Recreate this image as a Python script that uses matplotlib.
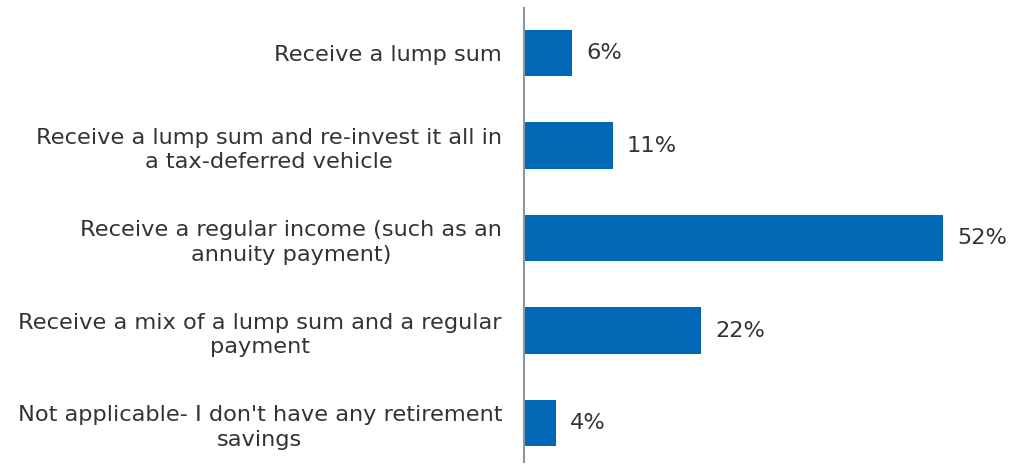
import matplotlib.pyplot as plt
from matplotlib.transforms import offset_copy

labels = [
    "Receive a lump sum",
    "Receive a lump sum and re-invest it all in\na tax-deferred vehicle",
    "Receive a regular income (such as an\nannuity payment)",
    "Receive a mix of a lump sum and a regular\npayment",
    "Not applicable- I don't have any retirement\nsavings",
]
values = [6, 11, 52, 22, 4]

bar_color = "#0068b4"
text_color = "#333333"
fs = 16.2

fig = plt.figure(figsize=(10.14, 4.65), dpi=100)
ax = fig.add_axes([524 / 1014, 3 / 465, 1 - 524 / 1014, 454 / 465])

pos = range(len(values))
ax.barh(pos, values, height=0.5, color=bar_color)
ax.set_ylim(4.42, -0.486)
ax.set_xlim(0, 490 / 8.06)

for y, v in zip(pos, values):
    ax.text(v + 1.75, y, f"{v}%", va="center", ha="left",
            fontsize=fs, color=text_color)

ax.set_yticks(list(pos))
ax.set_yticklabels(labels, fontsize=fs, color=text_color,
                   ha="center", linespacing=1.3)
ax.tick_params(axis="y", length=0, pad=0)
ax.set_xticks([])

for side in ["top", "right", "bottom"]:
    ax.spines[side].set_visible(False)
ax.spines["left"].set_color("#8a96a0")
ax.spines["left"].set_linewidth(1.5)

# centre each category label in the space left of the axis line
fig.canvas.draw()
renderer = fig.canvas.get_renderer()
for lbl in ax.get_yticklabels():
    w = lbl.get_window_extent(renderer).width
    lbl.set_transform(offset_copy(lbl.get_transform(), fig=fig,
                                  x=-(w / 2 + 22), units="dots"))

fig.savefig("out.png", dpi=100)
